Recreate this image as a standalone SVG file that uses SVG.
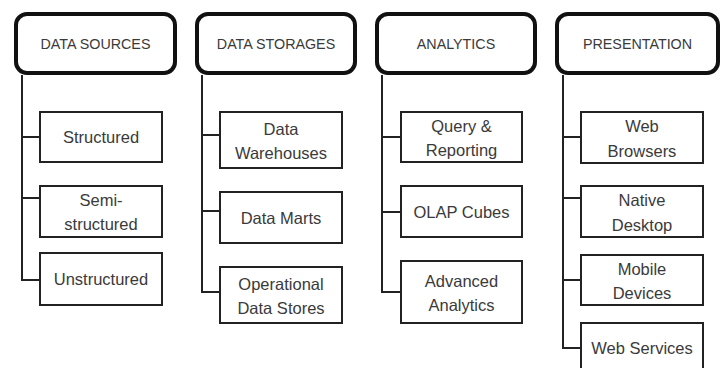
<svg xmlns="http://www.w3.org/2000/svg" width="727" height="368" viewBox="0 0 727 368">
  <style>
    .hdr rect { fill: #ffffff; stroke: #111111; stroke-width: 4; }
    .item rect { fill: #ffffff; stroke: #222222; stroke-width: 2; }
    text { font-family: "Liberation Sans", Arial, sans-serif; fill: #3a3a3a; text-anchor: middle; }
    .hdr text { font-size: 14.3px; }
    .item text { font-size: 16.5px; }
    .wire { fill: none; stroke: #222222; stroke-width: 2; }
  </style>
  <rect width="727" height="368" fill="#ffffff"/>

  <!-- trunk lines and branches -->
  <g id="connectors">
    <path class="wire" d="M22 75 V280 H40 M22 137 H40 M22 198 H40"/>
    <path class="wire" d="M202 75 V292 H220 M202 135 H220 M202 211 H220"/>
    <path class="wire" d="M382 75 V292 H401 M382 137 H401 M382 212 H401"/>
    <path class="wire" d="M563 75 V348 H581 M563 137 H581 M563 198 H581 M563 280 H581"/>
  </g>

  <!-- column headers -->
  <g id="hdr-sources" class="hdr">
    <rect x="16" y="14" width="159" height="59" rx="11"/>
    <text x="95.5" y="49">DATA SOURCES</text>
  </g>
  <g id="hdr-storages" class="hdr">
    <rect x="197" y="14" width="158" height="59" rx="11"/>
    <text x="276" y="49">DATA STORAGES</text>
  </g>
  <g id="hdr-analytics" class="hdr">
    <rect x="377" y="14" width="158" height="59" rx="11"/>
    <text x="456" y="49">ANALYTICS</text>
  </g>
  <g id="hdr-presentation" class="hdr">
    <rect x="557" y="14" width="161" height="59" rx="11"/>
    <text x="637.5" y="49">PRESENTATION</text>
  </g>

  <!-- data sources -->
  <g id="structured" class="item">
    <rect x="40" y="112" width="122" height="50"/>
    <text x="101" y="143">Structured</text>
  </g>
  <g id="semi-structured" class="item">
    <rect x="40" y="186" width="122" height="51"/>
    <text x="101" y="206">Semi-</text>
    <text x="101" y="230">structured</text>
  </g>
  <g id="unstructured" class="item">
    <rect x="40" y="253" width="122" height="52"/>
    <text x="101" y="285">Unstructured</text>
  </g>

  <!-- data storages -->
  <g id="data-warehouses" class="item">
    <rect x="220" y="112" width="122" height="56"/>
    <text x="281" y="135">Data</text>
    <text x="281" y="159">Warehouses</text>
  </g>
  <g id="data-marts" class="item">
    <rect x="220" y="192" width="122" height="51"/>
    <text x="281" y="224">Data Marts</text>
  </g>
  <g id="operational-data-stores" class="item">
    <rect x="220" y="267" width="122" height="56"/>
    <text x="281" y="290">Operational</text>
    <text x="281" y="314">Data Stores</text>
  </g>

  <!-- analytics -->
  <g id="query-reporting" class="item">
    <rect x="401" y="112" width="121" height="50"/>
    <text x="461.5" y="132">Query &amp;</text>
    <text x="461.5" y="156">Reporting</text>
  </g>
  <g id="olap-cubes" class="item">
    <rect x="401" y="186" width="121" height="51"/>
    <text x="461.5" y="218">OLAP Cubes</text>
  </g>
  <g id="advanced-analytics" class="item">
    <rect x="401" y="261" width="121" height="62"/>
    <text x="461.5" y="287">Advanced</text>
    <text x="461.5" y="311">Analytics</text>
  </g>

  <!-- presentation -->
  <g id="web-browsers" class="item">
    <rect x="581" y="112" width="122" height="51"/>
    <text x="642" y="132">Web</text>
    <text x="642" y="157">Browsers</text>
  </g>
  <g id="native-desktop" class="item">
    <rect x="581" y="186" width="122" height="51"/>
    <text x="642" y="206">Native</text>
    <text x="642" y="231">Desktop</text>
  </g>
  <g id="mobile-devices" class="item">
    <rect x="581" y="255" width="122" height="50"/>
    <text x="642" y="275">Mobile</text>
    <text x="642" y="299">Devices</text>
  </g>
  <g id="web-services" class="item">
    <rect x="581" y="323" width="122" height="50"/>
    <text x="642" y="354">Web Services</text>
  </g>
</svg>
